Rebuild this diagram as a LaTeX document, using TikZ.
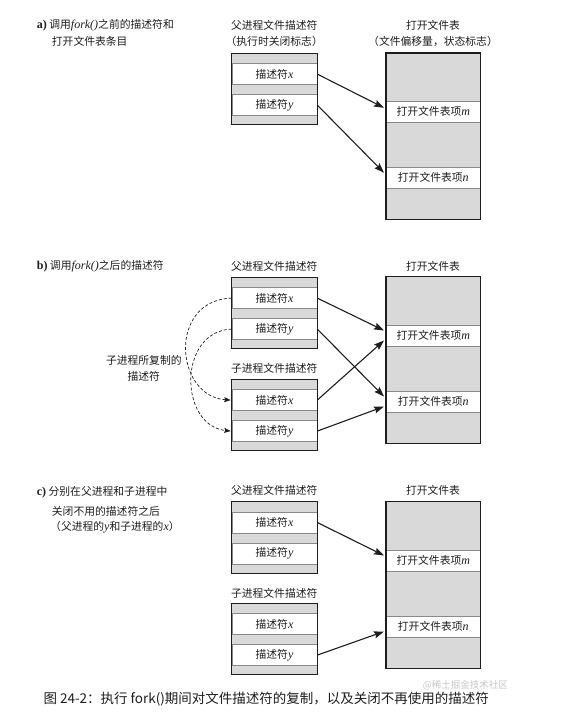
\documentclass[tikz,border=0pt]{standalone}
\usepackage{fontspec}
\setmainfont{Noto Sans CJK SC}
\newfontfamily\lserif{Liberation Serif}
\usetikzlibrary{arrows.meta}
\definecolor{cellgray}{HTML}{D9D9D9}
\definecolor{rulegray}{HTML}{8A8A8A}
\definecolor{ink}{HTML}{1E1E1E}
\newcommand{\iv}[1]{{\lserif\itshape\fontsize{12}{13}\selectfont #1}}
\newcommand{\bv}[1]{{\lserif\bfseries\fontsize{12}{13}\selectfont #1}}
\tikzset{
  every node/.style={font=\fontsize{10.8}{13}\selectfont, text=ink},
  fdbox/.style={draw=none, fill=cellgray, minimum width=85pt, minimum height=71pt, inner sep=0pt, anchor=north west},
  fdrow/.style={draw=rulegray, line width=0.6pt, fill=white, minimum width=85pt, minimum height=21pt, inner sep=0pt, anchor=north west},
  ofbox/.style={draw=none, fill=cellgray, minimum width=94pt, minimum height=166pt, inner sep=0pt, anchor=north west},
  ofrow/.style={draw=rulegray, line width=0.6pt, fill=white, minimum width=94pt, minimum height=21pt, inner sep=0pt, anchor=north west},
  outer/.style={draw=ink, line width=1.2pt},
  arr/.style={draw=ink, line width=1.1pt, -{Stealth[length=10pt,width=7pt,inset=1.5pt]}},
  darr/.style={draw=ink, line width=0.7pt, dash pattern=on 3pt off 2pt, -{Stealth[length=6.5pt,width=5pt,inset=1pt]}},
  lbl/.style={anchor=west, inner sep=0pt},
}
\newcommand{\fdtab}[2]{%
  \node[fdbox] (#1) at (231.7,#2) {};
  \node[fdrow] (#1x) at (231.7,{#2+10}) {描述符\iv{x}};
  \node[fdrow] (#1y) at (231.7,{#2+41}) {描述符\iv{y}};
  \draw[outer] (#1.north west) rectangle (#1.south east);
}
\newcommand{\oftab}[2]{%
  \node[ofbox] (#1) at (386,#2) {};
  \node[ofrow] (#1m) at (386,{#2+48}) {打开文件表项\iv{m}};
  \node[ofrow] (#1n) at (386,{#2+114}) {打开文件表项\iv{n}};
  \draw[outer] (#1.north west) rectangle (#1.south east);
}
\begin{document}
\begin{tikzpicture}[x=1pt,y=-1pt]
\fill[white] (0,0) rectangle (578,718);
\useasboundingbox (0,0) rectangle (578,718);

% ---------- part a ----------
\node[lbl] (la1) at (36.7,25) {\bv{a)} 调用\iv{fork()}之前的描述符和};
\node[lbl] (la2) at (51.7,41.7) {打开文件表条目};
\node (tpa1) at (274.2,25) {父进程文件描述符};
\node (tpa2) at (274.2,41.7) {（执行时关闭标志）};
\node (toa1) at (433,25) {打开文件表};
\node (toa2) at (433,41.7) {（文件偏移量，状态标志）};
\fdtab{pa}{53.3}
\oftab{oa}{53}
\draw[arr] (pax.east) -- ([xshift=-2pt,yshift=4pt]oam.west);
\draw[arr] (pay.east) -- ([xshift=-2pt,yshift=5pt]oan.west);

% ---------- part b ----------
\node[lbl] (lb1) at (36.7,266.7) {\bv{b)} 调用\iv{fork()}之后的描述符};
\node (tpb) at (274.2,266.7) {父进程文件描述符};
\node (tcb) at (274.2,368.3) {子进程文件描述符};
\node (tob) at (433,266.7) {打开文件表};
\fdtab{pb}{277.3}
\fdtab{cb}{379.3}
\oftab{ob}{276.7}
\node (dup1) at (143.8,360) {子进程所复制的};
\node (dup2) at (143.8,376.7) {描述符};
\draw[arr] (pbx.east) -- ([xshift=-2pt,yshift=5pt]obm.west);
\draw[arr] (pby.east) -- ([xshift=-2pt,yshift=5pt]obn.west);
\draw[arr] (cbx.east) -- ([xshift=-2pt,yshift=-5pt]obm.west);
\draw[arr] (cby.east) -- ([xshift=-2pt,yshift=-5pt]obn.west);
\draw[darr] (pbx.west) .. controls +(-64,2) and +(-56,-4) .. ([xshift=-1pt]cbx.west);
\draw[darr] (pby.west) .. controls +(-54,2) and +(-52,-6) .. ([xshift=-1pt]cby.west);

% ---------- part c ----------
\node[lbl] (lc1) at (36.7,492.3) {\bv{c)} 分别在父进程和子进程中};
\node[lbl] (lc2) at (51.7,511) {关闭不用的描述符之后};
\node[lbl] (lc3) at (50,526.7) {（父进程的\iv{y}和子进程的\iv{x}）};
\node (tpc) at (274.2,490.7) {父进程文件描述符};
\node (tcc) at (274.2,593.3) {子进程文件描述符};
\node (toc) at (433,490.7) {打开文件表};
\fdtab{pc}{501.7}
\fdtab{cc}{603.3}
\oftab{oc}{501.7}
\draw[arr] (pcx.east) -- ([xshift=-2pt,yshift=5pt]ocm.west);
\draw[arr] (ccy.east) -- ([xshift=-2pt,yshift=-5pt]ocn.west);

% ---------- caption ----------
\node[anchor=east, inner sep=0pt, font=\fontsize{9.5}{11}\selectfont, text=black!22] (wm) at (508,685) {@稀土掘金技术社区};
\node[anchor=west, inner sep=0pt, font=\fontsize{13.5}{15}\selectfont] (cap) at (43.3,699.5) {图 24-2：执行 fork()期间对文件描述符的复制，以及关闭不再使用的描述符};
\end{tikzpicture}
\end{document}
